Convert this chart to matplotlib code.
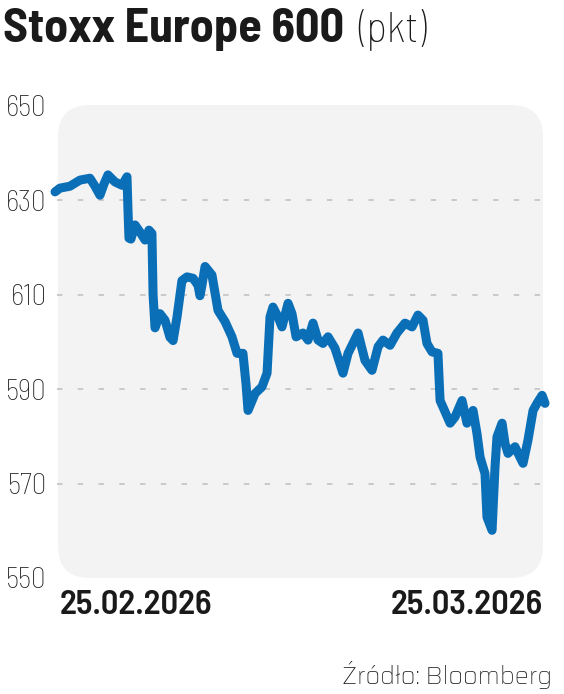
import matplotlib
matplotlib.use("Agg")
import matplotlib.pyplot as plt
from matplotlib.patches import FancyBboxPatch

# ---- data ----
# x: calendar days since 25.02.2026 (fractional, intraday), y: index points
days = [0.00, 0.30, 0.91, 1.52, 2.13, 2.44, 2.74, 2.99, 3.23, 3.66, 4.09, 4.39,
        4.45, 4.51, 4.63, 4.88, 5.18, 5.49, 5.73, 5.91, 5.98, 6.10, 6.40, 6.71,
        7.01, 7.20, 7.44, 7.74, 8.05, 8.42, 8.72, 8.84, 8.96, 9.15, 9.57, 9.94,
        10.37, 10.79, 11.10, 11.46, 11.65, 11.77, 12.01, 12.20, 12.62, 12.93,
        13.11, 13.29, 13.60, 13.84, 14.21, 14.45, 14.70, 15.12, 15.43, 15.73,
        16.04, 16.34, 16.65, 17.07, 17.56, 17.87, 18.48, 18.90, 19.33, 19.70,
        20.00, 20.43, 20.85, 21.34, 21.77, 22.13, 22.44, 22.68, 22.99, 23.35,
        23.48, 23.66, 24.09, 24.39, 24.82, 25.12, 25.49, 25.73, 25.92, 26.22,
        26.34, 26.65, 26.83, 26.95, 27.26, 27.44, 27.62, 28.05, 28.35, 28.54,
        28.84, 29.15, 29.39, 29.70, 29.88]
values = [631.8, 632.6, 633.0, 634.3, 634.7, 633.0, 631.1, 633.5, 635.4, 633.9, 633.2, 635.0,
          628.0, 622.0, 621.8, 624.8, 623.3, 621.6, 623.7, 623.0, 610.0, 603.0, 606.0, 604.6,
          601.0, 600.3, 605.3, 613.0, 613.8, 613.5, 612.0, 609.8, 612.0, 616.0, 614.2, 606.7,
          604.3, 601.1, 597.6, 597.6, 591.0, 585.5, 587.5, 589.1, 590.5, 593.4,
          605.3, 607.4, 605.3, 603.2, 608.2, 606.0, 601.1, 601.9, 600.4, 604.0,
          600.4, 599.7, 601.1, 598.7, 593.4, 597.6, 601.9, 596.1, 594.0, 599.0,
          600.4, 599.3, 601.9, 604.0, 603.2, 605.7, 604.6, 599.7, 597.9, 597.6,
          587.6, 586.2, 582.8, 584.1, 587.6, 582.8, 585.5, 580.6, 575.6, 572.1,
          562.9, 560.1, 573.5, 579.9, 582.8, 578.5, 576.4, 577.8, 575.6, 574.3,
          579.2, 585.5, 587.0, 588.7, 587.0]
yticks = [550, 570, 590, 610, 630, 650]
grid_levels = [570, 590, 610, 630]
start_label = "25.02.2026"
end_label = "25.03.2026"
title_bold = "Stoxx Europe 600"
title_unit = "(pkt)"
source = "Źródło: Bloomberg"

W, H = 564, 694
fig = plt.figure(figsize=(W / 100, H / 100), dpi=100)
fig.patch.set_facecolor("white")

def fx(px):
    return px / W

def fy(py):
    return 1 - py / H

# axes: data area px x 55..547, y 106..578
ax = fig.add_axes([fx(55), fy(578), fx(547) - fx(55), fy(106) - fy(578)])
ax.set_facecolor("none")
ax.set_xlim(0, 30)
ax.set_ylim(550, 650)

# rounded grey panel (in inches, figure coordinates)
panel = FancyBboxPatch((58 / 100, (H - 578) / 100), (543 - 58) / 100, (578 - 105) / 100,
                       boxstyle="round,pad=0,rounding_size=0.32",
                       transform=fig.dpi_scale_trans, facecolor="#f3f3f3",
                       edgecolor="none", zorder=0, clip_on=False)
ax.add_patch(panel)

for g in grid_levels:
    ax.axhline(g, xmin=0.004, xmax=0.998, color="#c6c6c6", lw=1.3,
               linestyle=(0, (3.0, 8.5)), zorder=1)

ax.plot(days, values, color="#0b6fb8", lw=6.5, solid_joinstyle="round",
        solid_capstyle="round", zorder=3, clip_on=False)

for s in ax.spines.values():
    s.set_visible(False)
ax.set_xticks([])
ax.set_yticks(yticks)
ax.set_yticklabels([str(t) for t in yticks], family="Barlow Semi Condensed",
                   fontweight=200, fontsize=21, color="#222222")
ax.tick_params(axis="y", length=0, pad=6)

# x end labels
fig.text(fx(60), fy(614), start_label, ha="left", va="baseline",
         family="Barlow Semi Condensed", fontweight="semibold", fontsize=25, color="#1a1a1a")
fig.text(fx(543), fy(614), end_label, ha="right", va="baseline",
         family="Barlow Semi Condensed", fontweight="semibold", fontsize=25, color="#1a1a1a")

# title
t1 = fig.text(fx(3), fy(42), title_bold, ha="left", va="baseline",
              family="Barlow Semi Condensed", fontweight="bold", fontsize=34.5, color="#1a1a1a")
fig.canvas.draw()
bb = t1.get_window_extent()
fig.text((bb.x1 + 14) / W, fy(42), title_unit, ha="left", va="baseline",
         family="Barlow Semi Condensed", fontweight=200, fontsize=31, color="#1a1a1a")

# source
fig.text(fx(552), fy(684), source, ha="right", va="baseline",
         family="Saira", fontweight="light", fontsize=18, color="#222222")

fig.savefig("out.png", dpi=100, facecolor="white")
